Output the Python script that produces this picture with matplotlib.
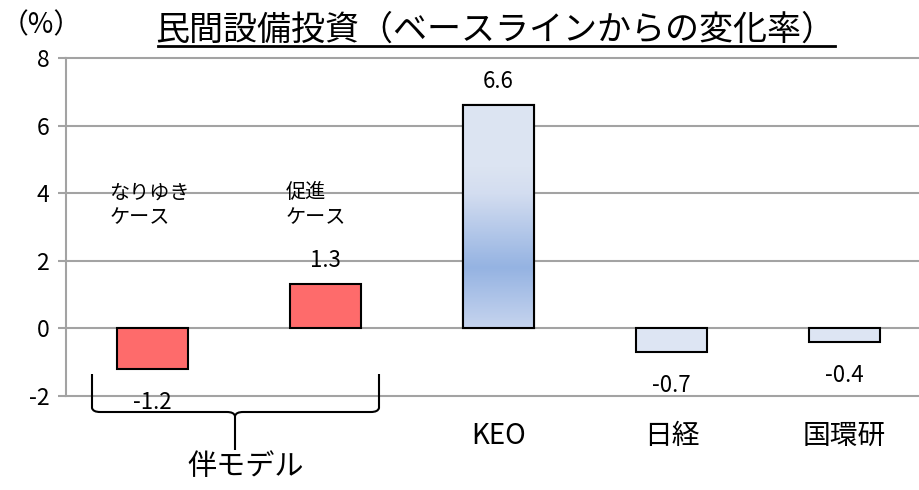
import numpy as np
import matplotlib
matplotlib.use('Agg')
import matplotlib.pyplot as plt
from matplotlib.path import Path
from matplotlib.patches import PathPatch
from matplotlib.colors import LinearSegmentedColormap

plt.rcParams['font.family'] = ['Noto Sans CJK JP', 'DejaVu Sans']

# data
categories = ['', '', 'KEO', '日経', '国環研']
values = [-1.2, 1.3, 6.6, -0.7, -0.4]
case_labels = ['なりゆき\nケース', '促進\nケース']
yticks = [-2, 0, 2, 4, 6, 8]

red = '#fe6b6b'
pale = '#dde5f3'
grid_c = '#a3a3a3'

W, H = 919, 490
fig = plt.figure(figsize=(W / 100, H / 100), dpi=100)
ax = fig.add_axes([66 / W, 1 - 396 / H, 865 / W, 338 / H])

x = np.arange(len(values))

for t in yticks:
    ax.axhline(t, color=grid_c, lw=1.5, zorder=0, clip_on=False)

for s in ['top', 'right', 'bottom']:
    ax.spines[s].set_visible(False)
ax.spines['left'].set_color(grid_c)
ax.spines['left'].set_linewidth(1.5)
ax.set_yticks(yticks)
ax.set_yticklabels([str(t) for t in yticks], fontsize=16.5)
ax.tick_params(axis='y', length=6, color=grid_c, width=1.5, pad=6)

ax.set_xticks(x)
ax.set_xticklabels(categories, fontsize=20)
ax.tick_params(axis='x', length=0, pad=18)

colors = [red, red, pale, pale, pale]
bars = ax.bar(x, values, width=0.41, color=colors, edgecolor='black',
              linewidth=1.5, zorder=3)

# vertical gradient fill for the KEO bar
grad = LinearSegmentedColormap.from_list(
    'keo', [(0.0, '#c6d4ee'), (0.27, '#95b3e2'), (0.6, '#d3ddf0'),
            (0.72, '#dce4f2'), (1.0, '#dde5f3')])
b = bars[2]
bx, by = b.get_x(), b.get_y()
bw, bh = b.get_width(), b.get_height()
img = ax.imshow(np.linspace(0, 1, 256).reshape(-1, 1), cmap=grad, aspect='auto',
                origin='lower', extent=[bx, bx + bw, by, by + bh], zorder=3.5)
img.set_clip_path(b)
ax.add_patch(plt.Rectangle((bx, by), bw, bh, fill=False, edgecolor='black',
                           linewidth=1.5, zorder=4))
ax.set_xlim(-0.5, len(values) - 0.5)
ax.set_ylim(-2, 8)

for xi, v in zip(x, values):
    off = 17 if v > 0 else -24
    ax.annotate(f'{v:.1f}', (xi, v), xytext=(0, off), textcoords='offset points',
                ha='center', va='center', fontsize=16, zorder=5,
                annotation_clip=False)

ax.text(-0.25, 3.65, case_labels[0], fontsize=14.5, ha='left', va='center',
        linespacing=1.2, zorder=5)
ax.text(0.77, 3.65, case_labels[1], fontsize=14.5, ha='left', va='center',
        linespacing=1.2, zorder=5)


def px(xp, yp):
    return (xp / W, 1 - yp / H)


# curly brace under the first two bars
L, R, tip, top, mid, bot = 92, 379, 235, 374, 412, 450
verts = [px(L, top), px(L, mid - 4), px(L + 1, mid), px(L + 8, mid),
         px(tip - 8, mid), px(tip - 1, mid), px(tip, mid + 4), px(tip, bot),
         px(tip, mid + 4), px(tip + 1, mid), px(tip + 8, mid),
         px(R - 8, mid), px(R - 1, mid), px(R, mid - 4), px(R, top)]
codes = [Path.MOVETO, Path.LINETO, Path.CURVE3, Path.CURVE3,
         Path.LINETO, Path.CURVE3, Path.CURVE3, Path.LINETO,
         Path.MOVETO, Path.CURVE3, Path.CURVE3,
         Path.LINETO, Path.CURVE3, Path.CURVE3, Path.LINETO]
fig.add_artist(PathPatch(Path(verts, codes), transform=fig.transFigure,
                         fill=False, edgecolor='black', lw=1.5))
fig.text(246 / W, 1 - 467 / H, '伴モデル', fontsize=21, ha='center', va='center')

fig.text(1 / W, 1 - 25 / H, '（%）', fontsize=20, ha='left', va='center')
fig.text(495 / W, 1 - 30 / H, '民間設備投資（ベースラインからの変化率）',
         fontsize=24.5, ha='center', va='center')
# underline
fig.add_artist(plt.Line2D([158 / W, 835 / W], [1 - 46 / H, 1 - 46 / H],
                          transform=fig.transFigure, color='black', lw=2))

fig.savefig('out.png', dpi=100)
